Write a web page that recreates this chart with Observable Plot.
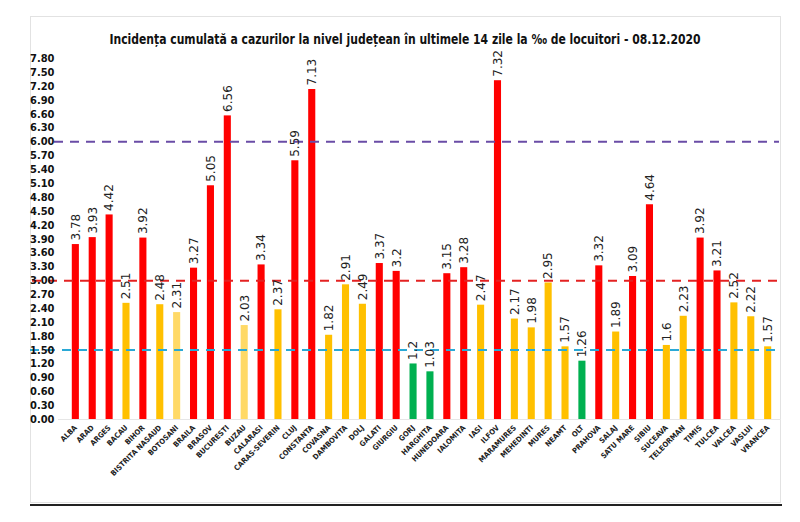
<!DOCTYPE html>
<html>
<head>
<meta charset="utf-8">
<script src="https://cdn.jsdelivr.net/npm/d3@7"></script>
<script src="https://cdn.jsdelivr.net/npm/@observablehq/plot@0.6"></script>
<style>
  body { margin: 0; background: #fff; }
  #wrap { position: relative; width: 800px; height: 522px; overflow: hidden; background: #fff; }
  #box { position: absolute; left: 30px; top: 16px; width: 749px; height: 485px; border: 1px solid #e2e2e2; }
  #base { position: absolute; left: 30px; top: 504px; width: 752px; height: 2px; background: #222; }
  #title { position: absolute; top: 31px; left: 0; width: 810px; text-align: center;
    font-family: "Liberation Sans Narrow", "DejaVu Sans Condensed", sans-serif; font-weight: bold; font-size: 13.5px; color: #111;
    transform: scaleX(0.89); transform-origin: 405px 0; }
  #chart { position: absolute; left: 0; top: 0; }
</style>
</head>
<body>
<div id="wrap">
  <div id="box"></div>
  <div id="base"></div>
  <div id="chart"></div>
  <div id="title">Incidența cumulată a cazurilor la nivel județean în ultimele 14 zile la ‰ de locuitori - 08.12.2020</div>
</div>
<script>
const counties = ["ALBA","ARAD","ARGES","BACAU","BIHOR","BISTRITA NASAUD","BOTOSANI","BRAILA","BRASOV","BUCURESTI","BUZAU","CALARASI","CARAS-SEVERIN","CLUJ","CONSTANTA","COVASNA","DAMBOVITA","DOLJ","GALATI","GIURGIU","GORJ","HARGHITA","HUNEDOARA","IALOMITA","IASI","ILFOV","MARAMURES","MEHEDINTI","MURES","NEAMT","OLT","PRAHOVA","SALAJ","SATU MARE","SIBIU","SUCEAVA","TELEORMAN","TIMIS","TULCEA","VALCEA","VASLUI","VRANCEA"];
const incidence = [3.78,3.93,4.42,2.51,3.92,2.48,2.31,3.27,5.05,6.56,2.03,3.34,2.37,5.59,7.13,1.82,2.91,2.49,3.37,3.2,1.2,1.03,3.15,3.28,2.47,7.32,2.17,1.98,2.95,1.57,1.26,3.32,1.89,3.09,4.64,1.6,2.23,3.92,3.21,2.52,2.22,1.57];
const paleCounties = ["BOTOSANI","BUZAU"];
const yTicks = d3.range(0, 27).map(i => +(i * 0.3).toFixed(2));
const thresholds = [1.5, 3.0, 6.0];

const data = counties.map((c, i) => ({county: c, value: incidence[i]}));
const colorOf = d => d.value > 3 ? "#ff0000" : d.value >= 1.5 ? (paleCounties.includes(d.county) ? "#ffd966" : "#ffc000") : "#00b050";

const narrow = '"Liberation Sans Narrow", "DejaVu Sans Condensed", sans-serif';

const chart = Plot.plot({
  width: 800,
  height: 522,
  marginLeft: 62,
  marginRight: 19,
  marginTop: 58,
  marginBottom: 103,
  style: {background: "transparent", overflow: "visible"},
  x: {domain: counties, padding: 0.58, axis: null, label: null},
  y: {domain: [0, 7.8], axis: null, label: null},
  marks: [
    Plot.barY(data, {x: "county", y: "value", fill: colorOf}),
    Plot.ruleY([thresholds[2]], {stroke: "#6a4ca6", strokeWidth: 2, strokeDasharray: "9,7", insetLeft: -8, insetRight: 2}),
    Plot.ruleY([thresholds[1]], {stroke: "#e32222", strokeWidth: 2, strokeDasharray: "9,7", insetLeft: -30, insetRight: 2}),
    Plot.ruleY([thresholds[0]], {stroke: "#2aa9d6", strokeWidth: 2, strokeDasharray: "9,7", insetLeft: -32, insetRight: 2}),
    Plot.text(data, {x: "county", y: "value", text: d => String(d.value), rotate: -90, textAnchor: "start", lineAnchor: "middle", dy: -4, fontSize: 12, fill: "#222", fontFamily: "DejaVu Sans, sans-serif"}),
    Plot.axisY({ticks: yTicks, tickFormat: d3.format(".2f"), tickSize: 0, tickPadding: 8, fontSize: 11, fontWeight: "bold", fontFamily: narrow, fill: "#111", label: null}),
    Plot.axisX({tickRotate: -45, tickSize: 0, tickPadding: 7, fontSize: 7.5, fontWeight: "bold", fontFamily: narrow, fill: "#222", label: null}),
    Plot.ruleY([0], {stroke: "#e6e6e6", strokeWidth: 1, insetLeft: -4})
  ]
});
document.getElementById("chart").appendChild(chart);
</script>
</body>
</html>
